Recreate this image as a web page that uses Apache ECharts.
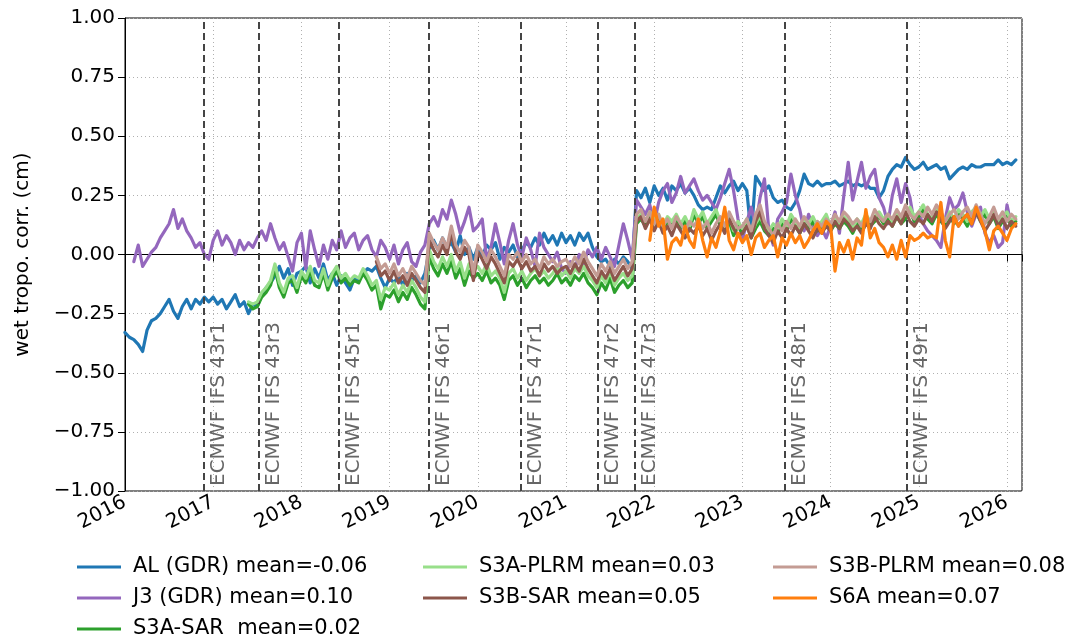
<!DOCTYPE html>
<html><head><meta charset="utf-8">
<script src="https://cdn.jsdelivr.net/npm/echarts@6/dist/echarts.min.js"></script>
<style>html,body{margin:0;padding:0;background:#fff}#c{width:1071px;height:639px}</style>
</head><body><div id="c"></div><script>
// time step of the sampled curves, in decimal years
const STEP = 0.05;

const alStart = 2016.00;
const alValues = [
-0.33,-0.35,-0.36,-0.38,-0.41,-0.32,-0.28,-0.27,-0.25,-0.22,-0.19,-0.24,-0.27,-0.22,-0.19,-0.23,-0.19,-0.21,-0.18,-0.20,
-0.18,-0.21,-0.19,-0.23,-0.20,-0.17,-0.22,-0.20,-0.25,-0.21,-0.22,-0.17,-0.14,-0.12,-0.09,-0.05,-0.10,-0.06,-0.13,-0.08,
-0.07,-0.05,-0.12,-0.06,-0.10,-0.04,-0.11,-0.08,-0.13,-0.09,-0.12,-0.15,-0.10,-0.11,-0.08,-0.06,-0.07,-0.05,-0.10,-0.14,
-0.10,-0.12,-0.09,-0.13,-0.08,-0.11,-0.09,-0.12,-0.08,0.02,0.06,0.02,0.07,0.03,0.05,0.01,0.08,0.00,0.03,-0.02,
0.03,-0.01,0.04,0.02,0.05,-0.02,0.03,0.01,0.04,-0.01,0.02,0.05,0.03,0.07,0.04,0.09,0.05,0.08,0.04,0.09,
0.05,0.08,0.04,0.09,0.06,0.09,0.03,-0.01,-0.03,-0.02,-0.05,-0.02,-0.04,-0.01,-0.03,-0.06,0.27,0.24,0.28,0.22,
0.29,0.25,0.28,0.23,0.29,0.27,0.30,0.26,0.28,0.25,0.21,0.19,0.20,0.19,0.24,0.29,0.26,0.29,0.31,0.27,
0.30,0.27,0.08,0.33,0.30,0.27,0.29,0.24,0.22,0.23,0.20,0.19,0.22,0.27,0.34,0.30,0.29,0.31,0.29,0.30,
0.30,0.31,0.29,0.30,0.31,0.29,0.30,0.29,0.30,0.28,0.28,0.24,0.27,0.33,0.36,0.38,0.37,0.41,0.38,0.36,
0.37,0.39,0.36,0.37,0.38,0.36,0.37,0.32,0.34,0.36,0.37,0.36,0.38,0.37,0.37,0.38,0.38,0.38,0.40,0.38,
0.39,0.38,0.40];

const j3Start = 2016.10;
const j3Values = [
-0.03,0.04,-0.05,-0.02,0.01,0.03,0.07,0.10,0.13,0.19,0.11,0.15,0.10,0.07,0.03,0.05,0.00,-0.02,
0.06,0.10,0.04,0.08,0.05,0.00,0.06,0.02,0.05,0.03,0.07,0.10,0.06,0.13,0.07,0.02,0.05,-0.01,-0.07,0.05,
0.09,-0.06,0.10,0.02,-0.05,0.04,-0.02,0.06,0.02,0.10,0.03,0.07,0.09,0.02,0.06,0.08,0.02,-0.01,0.06,0.03,
-0.02,0.04,-0.04,0.02,0.05,-0.03,-0.05,0.01,0.04,0.13,0.16,0.12,0.19,0.15,0.23,0.17,0.09,0.14,0.20,0.10,
0.12,0.15,-0.02,0.03,0.13,0.05,-0.04,0.06,0.13,0.04,-0.01,0.07,0.02,-0.05,0.09,0.03,0.00,-0.03,0.01,-0.06,
-0.08,-0.03,-0.06,0.00,-0.04,0.02,-0.01,0.03,-0.02,0.03,-0.01,-0.05,0.04,0.13,0.06,-0.02,0.23,0.20,0.17,0.21,
0.13,0.22,0.27,0.30,0.22,0.26,0.33,0.26,0.29,0.32,0.27,0.23,0.25,0.22,0.19,0.24,0.30,0.36,0.27,0.15,
0.06,0.14,0.20,0.12,0.24,0.32,0.10,0.04,0.15,0.18,0.22,0.34,0.25,0.19,0.10,0.17,0.12,0.08,0.11,0.07,
0.12,0.18,0.09,0.25,0.39,0.23,0.31,0.39,0.28,0.33,0.36,0.24,0.20,0.13,0.25,0.32,0.22,0.30,0.24,0.13,
0.17,0.13,0.10,0.08,0.06,0.03,0.15,0.24,0.19,0.21,0.26,0.18,0.12,0.17,0.20,0.09,0.05,0.08,0.03,0.05,
0.21,0.12,0.13];

const s3aStart = 2017.40;
const s3aSarValues = [
-0.21,-0.23,-0.22,-0.18,-0.16,-0.13,-0.06,-0.14,-0.18,-0.12,-0.11,-0.16,
-0.09,-0.12,-0.07,-0.13,-0.14,-0.08,-0.15,-0.10,-0.07,-0.12,-0.10,-0.13,-0.11,-0.12,-0.08,-0.11,-0.15,-0.13,-0.23,-0.17,
-0.18,-0.15,-0.20,-0.16,-0.19,-0.14,-0.17,-0.21,-0.23,-0.01,-0.06,-0.09,-0.04,-0.08,-0.03,-0.10,-0.06,-0.13,-0.07,-0.10,
-0.08,-0.11,-0.07,-0.12,-0.10,-0.13,-0.19,-0.11,-0.09,-0.13,-0.10,-0.14,-0.11,-0.09,-0.12,-0.10,-0.13,-0.11,-0.08,-0.12,
-0.10,-0.13,-0.09,-0.11,-0.08,-0.12,-0.14,-0.17,-0.12,-0.15,-0.10,-0.16,-0.13,-0.11,-0.14,-0.12,0.13,0.15,0.12,0.16,
0.13,0.15,0.10,0.14,0.12,0.15,0.11,0.14,0.10,0.17,0.13,0.16,0.11,0.14,0.17,0.12,0.10,0.14,0.08,0.12,
0.09,0.13,0.07,0.11,0.14,0.10,0.08,0.11,0.09,0.13,0.10,0.15,0.12,0.09,0.13,0.11,0.14,0.10,0.12,0.15,
0.10,0.13,0.11,0.14,0.12,0.09,0.13,0.11,0.15,0.12,0.14,0.16,0.13,0.15,0.12,0.16,0.13,0.15,0.18,0.14,
0.16,0.19,0.15,0.13,0.17,0.14,0.12,0.16,0.13,0.17,0.15,0.12,0.16,0.18,0.14,0.17,0.13,0.16,0.11,0.14,
0.16,0.12,0.14];

const s3aPlrmValues = [
-0.20,-0.21,-0.20,-0.16,-0.14,-0.11,-0.04,-0.12,-0.16,-0.10,-0.09,-0.14,
-0.07,-0.10,-0.05,-0.11,-0.12,-0.06,-0.13,-0.08,-0.05,-0.10,-0.08,-0.11,-0.09,-0.10,-0.06,-0.09,-0.13,-0.11,-0.19,-0.14,
-0.15,-0.12,-0.17,-0.13,-0.16,-0.11,-0.14,-0.18,-0.20,0.02,-0.03,-0.06,-0.01,-0.05,0.00,-0.07,-0.03,-0.10,-0.04,-0.07,
-0.05,-0.08,-0.04,-0.09,-0.07,-0.10,-0.16,-0.08,-0.06,-0.10,-0.07,-0.11,-0.08,-0.06,-0.09,-0.07,-0.10,-0.08,-0.05,-0.09,
-0.07,-0.10,-0.06,-0.08,-0.05,-0.09,-0.11,-0.14,-0.09,-0.12,-0.07,-0.13,-0.10,-0.08,-0.11,-0.09,0.15,0.17,0.14,0.18,
0.15,0.17,0.12,0.16,0.14,0.17,0.13,0.16,0.12,0.19,0.15,0.18,0.13,0.16,0.19,0.14,0.12,0.16,0.10,0.14,
0.11,0.15,0.09,0.13,0.16,0.12,0.10,0.13,0.11,0.15,0.12,0.17,0.14,0.11,0.15,0.13,0.16,0.12,0.14,0.17,
0.12,0.15,0.13,0.16,0.14,0.11,0.15,0.13,0.17,0.14,0.16,0.18,0.15,0.17,0.14,0.18,0.15,0.17,0.20,0.16,
0.18,0.21,0.17,0.15,0.19,0.16,0.14,0.18,0.15,0.19,0.17,0.14,0.18,0.20,0.16,0.19,0.15,0.18,0.13,0.16,
0.18,0.14,0.16];

const s3bStart = 2018.85;
const s3bSarValues = [
-0.03,-0.09,-0.07,
-0.11,-0.07,-0.12,-0.09,-0.13,-0.08,-0.11,-0.14,-0.16,0.06,0.02,-0.01,0.04,0.00,0.09,0.01,-0.02,0.03,0.00,-0.11,
0.01,-0.02,-0.06,-0.01,-0.04,-0.08,-0.12,-0.03,-0.05,-0.02,-0.06,-0.03,-0.07,-0.05,-0.09,-0.04,-0.07,-0.05,-0.08,-0.06,
-0.05,-0.08,-0.04,-0.07,-0.02,-0.06,-0.09,-0.12,-0.07,-0.10,-0.06,-0.11,-0.08,-0.05,-0.09,-0.06,0.14,0.16,0.11,0.15,
0.10,0.14,0.09,0.12,0.08,0.13,0.10,0.07,0.11,0.09,0.12,0.08,0.11,0.06,0.10,0.13,0.09,0.15,0.11,0.08,
0.09,0.12,0.07,0.14,0.18,0.11,0.08,0.05,0.10,0.07,0.11,0.08,0.12,0.09,0.13,0.10,0.07,0.11,0.09,0.12,
0.10,0.14,0.11,0.15,0.13,0.10,0.12,0.09,0.13,0.11,0.16,0.13,0.11,0.14,0.12,0.16,0.13,0.18,0.14,0.12,
0.15,0.13,0.17,0.14,0.18,0.15,0.11,0.14,0.16,0.12,0.15,0.17,0.13,0.18,0.14,0.10,0.13,0.17,0.12,0.15,
0.11,0.14,0.12];

const s3bPlrmValues = [
-0.01,-0.06,-0.04,
-0.08,-0.04,-0.09,-0.06,-0.10,-0.05,-0.08,-0.11,-0.13,0.09,0.05,0.02,0.07,0.03,0.12,0.04,0.01,0.06,0.03,-0.08,
0.04,0.01,-0.03,0.02,-0.01,-0.05,-0.09,0.00,-0.02,0.01,-0.03,0.00,-0.04,-0.02,-0.06,-0.01,-0.04,-0.02,-0.05,-0.03,
-0.02,-0.05,-0.01,-0.04,0.01,-0.03,-0.06,-0.09,-0.04,-0.07,-0.03,-0.08,-0.05,-0.02,-0.06,-0.03,0.17,0.19,0.14,0.18,
0.13,0.17,0.12,0.15,0.11,0.16,0.13,0.10,0.14,0.12,0.15,0.11,0.14,0.09,0.13,0.16,0.12,0.18,0.14,0.11,
0.12,0.15,0.10,0.17,0.21,0.14,0.11,0.08,0.13,0.10,0.14,0.11,0.15,0.12,0.16,0.13,0.10,0.14,0.12,0.15,
0.13,0.17,0.14,0.18,0.16,0.13,0.15,0.12,0.16,0.14,0.19,0.16,0.14,0.17,0.15,0.19,0.16,0.21,0.17,0.15,
0.18,0.16,0.20,0.17,0.21,0.18,0.14,0.17,0.19,0.15,0.18,0.20,0.16,0.21,0.17,0.13,0.16,0.20,0.15,0.18,
0.14,0.17,0.15];

const s6aStart = 2021.95;
const s6aValues = [
0.06,
0.20,0.12,0.15,-0.02,0.05,0.07,0.04,0.12,0.06,0.03,0.15,0.06,-0.01,0.07,0.03,0.10,0.20,0.06,0.02,0.09,
0.05,0.08,0.00,0.07,0.09,0.03,0.06,0.08,-0.01,0.07,0.04,0.09,0.05,0.08,0.03,0.06,0.10,0.13,0.09,0.14,
0.12,-0.07,0.05,0.01,0.06,-0.02,0.07,0.04,0.19,0.07,0.11,0.05,0.03,-0.01,0.04,-0.02,0.06,-0.01,0.08,0.06,
0.07,0.09,0.07,0.08,0.07,0.22,0.06,-0.01,0.16,0.12,0.15,0.17,0.13,0.20,0.15,0.10,0.02,0.10,0.12,0.09,
0.06,0.11,0.13];

const seriesNames = ['AL (GDR) mean=-0.06','J3 (GDR) mean=0.10','S3A-SAR  mean=0.02','S3A-PLRM mean=0.03',
                     'S3B-SAR mean=0.05','S3B-PLRM mean=0.08','S6A mean=0.07'];
const seriesColors = ['#1f77b4','#9467bd','#2ca02c','#98df8a','#8c564b','#c49c94','#ff7f0e'];

// ECMWF IFS cycle changes (decimal years) and labels
const ifsDates = [2016.891, 2017.523, 2018.425, 2019.441, 2020.495, 2021.356, 2021.778, 2023.485, 2024.863];
const ifsLabels = ['ECMWF IFS 43r1','ECMWF IFS 43r3','ECMWF IFS 45r1','ECMWF IFS 46r1','ECMWF IFS 47r1',
                   'ECMWF IFS 47r2','ECMWF IFS 47r3','ECMWF IFS 48r1','ECMWF IFS 49r1'];

const xMin = 2016, xMax = 2026.17, xInterval = 1;
const yMin = -1, yMax = 1, yInterval = 0.25;

const FONT = 'DejaVu Sans';
function toPoints(start, vals) {
  return vals.map((v, i) => [Math.round((start + i * STEP) * 1000) / 1000, v]);
}
const allData = [
  toPoints(alStart, alValues), toPoints(j3Start, j3Values),
  toPoints(s3aStart, s3aSarValues), toPoints(s3aStart, s3aPlrmValues),
  toPoints(s3bStart, s3bSarValues), toPoints(s3bStart, s3bPlrmValues),
  toPoints(s6aStart, s6aValues)
];

const series = allData.map((d, i) => ({
  name: seriesNames[i], type: 'line', data: d, showSymbol: false, symbol: 'none',
  lineStyle: { color: seriesColors[i], width: 3.2, join: 'round', cap: 'round' }, itemStyle: { color: seriesColors[i] },
  emphasis: { disabled: true }, animation: false, z: 2 + i
}));
series[series.length - 1].markLine = {
  silent: true, symbol: ['none', 'none'], animation: false,
  lineStyle: { color: '#444', type: [7, 4], width: 2 },
  label: { show: true, position: 'insideStartBottom', distance: 5, color: '#666',
           fontFamily: FONT, fontSize: 20, formatter: p => p.name },
  data: ifsDates.map((d, i) => ({ xAxis: d, name: ifsLabels[i] }))
};

const legendCommon = {
  orient: 'vertical', icon: 'rect', itemWidth: 44, itemHeight: 3, itemGap: 9, height: 120, padding: 0,
  textStyle: { fontFamily: FONT, fontSize: 21, color: '#000', lineHeight: 22, padding: [0,0,0,7] },
  selectedMode: false
};

const option = {
  backgroundColor: '#fff',
  animation: false,
  grid: { left: 125, right: 49, top: 18, bottom: 148, show: true, borderColor: '#000', borderWidth: 1 },
  legend: [
    Object.assign({ left: 77, top: 556, data: seriesNames.slice(0, 3) }, legendCommon),
    Object.assign({ left: 423, top: 556, data: seriesNames.slice(3, 5) }, legendCommon),
    Object.assign({ left: 773, top: 556, data: seriesNames.slice(5, 7) }, legendCommon)
  ],
  xAxis: {
    type: 'value', min: xMin, max: xMax, interval: xInterval,
    axisLine: { show: true, lineStyle: { color: '#000', width: 1 } },
    axisTick: { show: true, length: 7, lineStyle: { color: '#000' } },
    axisLabel: { rotate: 27, fontFamily: FONT, fontSize: 20, color: '#000', margin: 10,
                 formatter: v => (Math.abs(v - Math.round(v)) < 1e-6 ? String(Math.round(v)) : '') },
    splitLine: { show: true, lineStyle: { color: '#b0b0b0', type: [1, 3], width: 1 } }
  },
  yAxis: {
    type: 'value', min: yMin, max: yMax, interval: yInterval,
    name: 'wet tropo. corr. (cm)', nameLocation: 'middle', nameGap: 92,
    nameTextStyle: { fontFamily: FONT, fontSize: 20, color: '#000' },
    axisLine: { show: true, lineStyle: { color: '#000', width: 1 } },
    axisTick: { show: true, length: 7, lineStyle: { color: '#000' } },
    axisLabel: { fontFamily: FONT, fontSize: 20, color: '#000', margin: 10,
                 formatter: v => (v < 0 ? '\u2212' : '') + Math.abs(v).toFixed(2) },
    splitLine: { show: true, lineStyle: { color: '#b0b0b0', type: [1, 3], width: 1 } }
  },
  series: series
};

const chart = echarts.init(document.getElementById('c'), null, { renderer: 'canvas' });
chart.setOption(option);
</script></body></html>
